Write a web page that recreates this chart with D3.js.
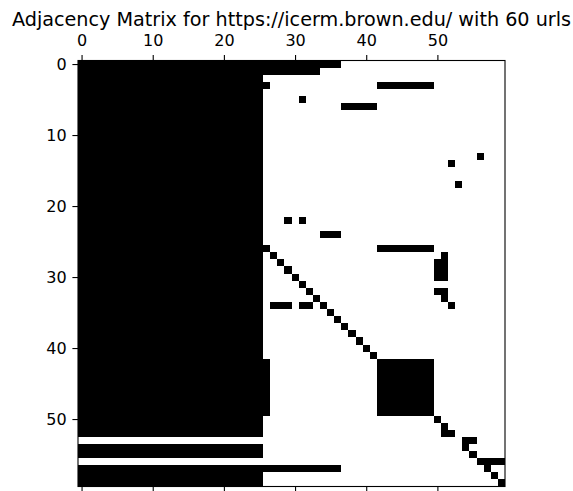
<!DOCTYPE html>
<html>
<head>
<meta charset="utf-8">
<script src="https://cdn.jsdelivr.net/npm/d3@7"></script>
<style>
  body { margin: 0; background: #fff; }
  text { font-family: "DejaVu Sans", sans-serif; fill: #000; }
</style>
</head>
<body>
<div id="chart"></div>
<script>
// number of urls crawled (matrix is nUrls x nUrls)
var nUrls = 60;
var xTicks = [0, 10, 20, 30, 40, 50];
var yTicks = [0, 10, 20, 30, 40, 50];
var chartTitle = "Adjacency Matrix for https://icerm.brown.edu/ with 60 urls";

// links per source row, as runs of [firstTarget, lastTarget]
var linkRuns = [
    [[0, 36]],
    [[0, 33]],
    [[0, 25]],
    [[0, 26], [42, 49]],
    [[0, 25]],
    [[0, 25], [31, 31]],
    [[0, 25], [37, 41]],
    [[0, 25]],
    [[0, 25]],
    [[0, 25]],
    [[0, 25]],
    [[0, 25]],
    [[0, 25]],
    [[0, 25], [56, 56]],
    [[0, 25], [52, 52]],
    [[0, 25]],
    [[0, 25]],
    [[0, 25], [53, 53]],
    [[0, 25]],
    [[0, 25]],
    [[0, 25]],
    [[0, 25]],
    [[0, 25], [29, 29], [31, 31]],
    [[0, 25]],
    [[0, 25], [34, 36]],
    [[0, 25]],
    [[0, 26], [42, 49]],
    [[0, 25], [27, 27], [51, 51]],
    [[0, 25], [28, 28], [50, 51]],
    [[0, 25], [29, 29], [50, 51]],
    [[0, 25], [30, 30], [50, 51]],
    [[0, 25], [31, 31]],
    [[0, 25], [32, 32], [50, 51]],
    [[0, 25], [33, 33], [51, 51]],
    [[0, 25], [27, 29], [31, 32], [34, 34], [52, 52]],
    [[0, 25], [35, 35]],
    [[0, 25], [36, 36]],
    [[0, 25], [37, 37]],
    [[0, 25], [38, 38]],
    [[0, 25], [39, 39]],
    [[0, 25], [40, 40]],
    [[0, 25], [41, 41]],
    [[0, 26], [42, 49]],
    [[0, 26], [42, 49]],
    [[0, 26], [42, 49]],
    [[0, 26], [42, 49]],
    [[0, 26], [42, 49]],
    [[0, 26], [42, 49]],
    [[0, 26], [42, 49]],
    [[0, 26], [42, 49]],
    [[0, 25], [50, 50]],
    [[0, 25], [51, 51]],
    [[0, 25], [51, 52]],
    [[54, 55]],
    [[0, 25], [54, 54]],
    [[0, 25], [55, 55]],
    [[56, 59]],
    [[0, 36], [57, 57]],
    [[0, 25], [58, 58]],
    [[0, 25], [59, 59]]
];

var width = 573, height = 491;
var margin = {top: 60.5, left: 78, right: 68, bottom: 4.5};

var svg = d3.select("#chart").append("svg")
    .attr("width", width)
    .attr("height", height);

var x = d3.scaleLinear()
    .domain([-0.5, nUrls - 0.5])
    .range([margin.left, width - margin.right]);
var y = d3.scaleLinear()
    .domain([-0.5, nUrls - 0.5])
    .range([margin.top, height - margin.bottom]);

// flatten the runs into one list of segments
var segments = [];
linkRuns.forEach(function(runs, row){
    runs.forEach(function(r){
        segments.push({row: row, from: r[0], to: r[1]});
    });
});

svg.append("g")
    .selectAll("rect")
    .data(segments)
    .enter().append("rect")
    .attr("x", function(d){ return x(d.from - 0.5); })
    .attr("y", function(d){ return y(d.row - 0.5); })
    .attr("width", function(d){ return x(d.to + 0.5) - x(d.from - 0.5); })
    .attr("height", function(d){ return y(d.row + 0.5) - y(d.row - 0.5); })
    .attr("fill", "#000")
    .attr("shape-rendering", "crispEdges");

// axes: labels on top and left, bare ticks at the bottom
var fontSize = "16px";
var tickLen = 5.6;
var topAxis = svg.append("g")
    .attr("transform", "translate(0," + y(-0.5) + ")")
    .call(d3.axisTop(x).tickValues(xTicks).tickSize(tickLen).tickPadding(9.2));
var leftAxis = svg.append("g")
    .attr("transform", "translate(" + x(-0.5) + ",0)")
    .call(d3.axisLeft(y).tickValues(yTicks).tickSize(tickLen).tickPadding(5.7));
var bottomAxis = svg.append("g")
    .attr("transform", "translate(0," + y(nUrls - 0.5) + ")")
    .call(d3.axisBottom(x).tickValues(xTicks).tickSize(tickLen).tickFormat(""));

[topAxis, leftAxis, bottomAxis].forEach(function(a){
    a.select(".domain").remove();
    a.selectAll(".tick line").attr("stroke", "#000").attr("stroke-width", 1.1);
    a.selectAll(".tick text")
        .style("font-family", "'DejaVu Sans', sans-serif")
        .style("font-size", fontSize)
        .attr("fill", "#000");
});

// frame
svg.append("rect")
    .attr("x", x(-0.5))
    .attr("y", y(-0.5))
    .attr("width", x(nUrls - 0.5) - x(-0.5))
    .attr("height", y(nUrls - 0.5) - y(-0.5))
    .attr("fill", "none")
    .attr("stroke", "#000")
    .attr("stroke-width", 1.1);

svg.append("text")
    .attr("x", (x(-0.5) + x(nUrls - 0.5)) / 2)
    .attr("y", 25.7)
    .attr("text-anchor", "middle")
    .style("font-size", "19.2px")
    .text(chartTitle);
</script>
</body>
</html>
